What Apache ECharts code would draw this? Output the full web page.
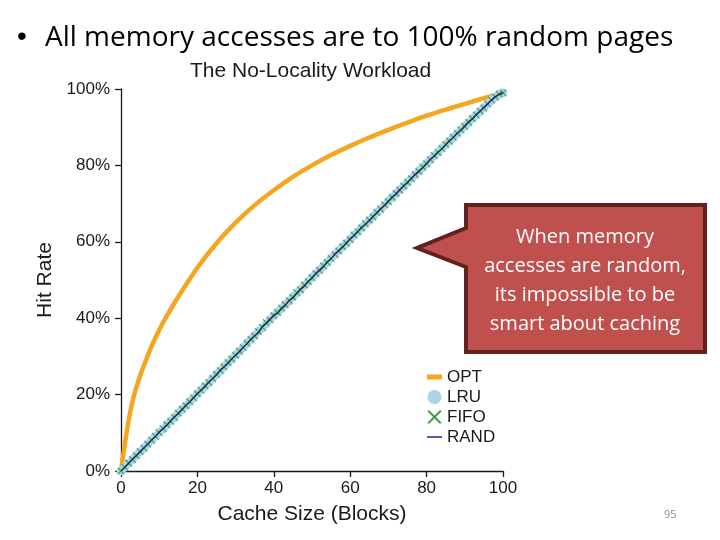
<!DOCTYPE html>
<html>
<head>
<meta charset="utf-8">
<script src="https://cdn.jsdelivr.net/npm/echarts@6/dist/echarts.min.js"></script>
<style>
  html, body { margin: 0; padding: 0; background: #ffffff; }
  #chart { width: 720px; height: 540px; }
</style>
</head>
<body>
<div id="chart"></div>
<script>
// ---- data ----
const slideTitle = 'All memory accesses are to 100% random pages';
const chartTitle = 'The No-Locality Workload';
const xAxisName = 'Cache Size (Blocks)';
const yAxisName = 'Hit Rate';
const calloutText = ['When memory', 'accesses are random,', 'its impossible to be', 'smart about caching'];
const pageNumber = '95';
const seriesNames = ['OPT', 'LRU', 'FIFO', 'RAND'];

const optBlocks = [0, 1, 2, 3, 4, 5, 6.5, 8, 10, 12, 15, 20, 25, 30, 35, 40, 45, 50, 55, 60, 65, 70, 75, 80, 85, 90, 95, 100];
const optHit    = [0, 7, 13.2, 18.2, 21.8, 24.9, 28.9, 32.6, 36.9, 40.6, 45.6, 53.2, 59.6, 65, 69.6, 73.5, 77, 80, 82.7, 85.1, 87.3, 89.3, 91.2, 93, 94.6, 96.1, 97.6, 99];

// cache sizes 0..100 for LRU / FIFO / RAND
const lruHit = [
  0, 1.0, 2.0, 3.0, 4.1, 5.0, 6.0, 7.1, 8.0, 9.1,
  10.1, 11.0, 12.1, 13.1, 14.0, 15.2, 16.1, 17.1, 18.2, 19.1,
  20.2, 21.3, 22.2, 23.1, 24.3, 25.3, 26.2, 27.4, 28.3, 29.3,
  30.4, 31.3, 32.3, 33.5, 34.4, 35.5, 36.6, 37.4, 38.5, 39.6,
  40.6, 41.6, 42.5, 43.6, 44.5, 45.6, 46.6, 47.5, 48.6, 49.5,
  50.7, 51.6, 52.7, 53.6, 54.6, 55.7, 56.6, 57.7, 58.7, 59.6,
  60.7, 61.7, 62.6, 63.7, 64.7, 65.6, 66.6, 67.7, 68.6, 69.6,
  70.7, 71.6, 72.6, 73.7, 74.5, 75.6, 76.6, 77.5, 78.6, 79.5,
  80.5, 81.5, 82.5, 83.4, 84.5, 85.4, 86.4, 87.4, 88.3, 89.3,
  90.3, 91.2, 92.3, 93.2, 94.1, 95.1, 96.1, 97.0, 97.9, 98.6,
  99.0
];
const fifoHit = [
  0, 1.0, 2.1, 3.0, 4.0, 5.1, 6.0, 7.0, 8.1, 9.1,
  10.0, 11.1, 12.1, 13.0, 14.1, 15.1, 16.2, 17.1, 18.1, 19.2,
  20.2, 21.1, 22.3, 23.2, 24.2, 25.3, 26.3, 27.2, 28.4, 29.3,
  30.3, 31.4, 32.3, 33.4, 34.5, 35.3, 36.5, 37.6, 38.9, 39.5,
  40.7, 41.5, 42.7, 43.5, 44.6, 45.5, 46.7, 47.4, 48.7, 49.6,
  50.6, 51.7, 52.5, 53.7, 54.6, 55.6, 56.7, 57.6, 58.7, 59.7,
  60.6, 61.8, 62.6, 63.6, 64.7, 65.7, 66.5, 67.7, 68.5, 69.7,
  70.5, 71.6, 72.7, 73.5, 74.6, 75.6, 76.5, 77.6, 78.4, 79.6,
  80.4, 81.5, 82.6, 83.4, 84.4, 85.5, 86.3, 87.4, 88.4, 89.3,
  90.2, 91.3, 92.2, 93.2, 94.2, 95.0, 96.1, 97.1, 97.9, 98.7,
  99.0
];
const randHit = [
  0, 1.0, 2.0, 3.1, 4.0, 5.0, 6.1, 7.0, 8.1, 9.0,
  10.2, 11.1, 12.0, 13.1, 14.2, 15.0, 16.1, 17.2, 18.1, 19.2,
  20.3, 21.2, 22.1, 23.3, 24.2, 25.2, 26.4, 27.3, 28.2, 29.4,
  30.3, 31.2, 32.4, 33.3, 34.5, 35.4, 36.2, 37.8, 38.6, 39.7,
  40.8, 41.3, 42.5, 43.4, 44.6, 45.3, 46.5, 47.6, 48.4, 49.6,
  50.5, 51.7, 52.6, 53.5, 54.7, 55.6, 56.8, 57.7, 58.6, 59.7,
  60.8, 61.6, 62.7, 63.8, 64.6, 65.5, 66.7, 67.6, 68.7, 69.5,
  70.6, 71.7, 72.5, 73.6, 74.7, 75.5, 76.6, 77.6, 78.5, 79.4,
  80.5, 81.6, 82.4, 83.5, 84.3, 85.4, 86.5, 87.3, 88.4, 89.2,
  90.3, 91.4, 92.2, 93.3, 94.2, 95.2, 96.1, 97.1, 98.0, 98.6,
  99.0
];
const xTicks = [0, 20, 40, 60, 80, 100];
const yTicks = [0, 20, 40, 60, 80, 100];

// ---- build ----
const pairs = (xs, ys) => ys.map((v, i) => [xs[i], v]);
const blocksRange = randHit.map((_, i) => i);

const axisFont = 'Liberation Sans, Arial, Helvetica, sans-serif';
const slideFont = '"Open Sans", Lato, sans-serif';
const xPath = 'path://M0,1L1,0L5,4L9,0L10,1L6,5L10,9L9,10L5,6L1,10L0,9L4,5Z';

const chart = echarts.init(document.getElementById('chart'), null, { renderer: 'canvas' });
chart.setOption({
  backgroundColor: '#ffffff',
  animation: false,
  textStyle: { fontFamily: axisFont },
  title: [
    { text: '\u2022', left: 17, top: 23, padding: 0,
      textStyle: { fontFamily: 'Arial, sans-serif', fontSize: 28, fontWeight: 'normal', color: '#000' } },
    { text: slideTitle, left: 45, top: 24, padding: 0,
      textStyle: { fontFamily: slideFont, fontSize: 28, fontWeight: 'normal', color: '#000' } },
    { text: chartTitle, left: 190, top: 61, padding: 0,
      textStyle: { fontFamily: axisFont, fontSize: 21, fontWeight: 'normal', color: '#1a1a1a' } },
    { text: pageNumber, left: 664, top: 509, padding: 0,
      textStyle: { fontFamily: slideFont, fontSize: 11, fontWeight: 'normal', color: '#8c8c8c' } }
  ],
  grid: { left: 121, right: 217, top: 89, bottom: 69, containLabel: false },
  xAxis: {
    type: 'value', min: 0, max: 100, interval: 20,
    name: xAxisName, nameLocation: 'middle', nameGap: 33,
    nameTextStyle: { fontSize: 21, color: '#1a1a1a' },
    axisLine: { show: true, lineStyle: { color: '#1a1a1a', width: 1.3 } },
    axisTick: { show: true, length: 6, lineStyle: { color: '#1a1a1a', width: 1.3 } },
    axisLabel: { fontSize: 17, color: '#1a1a1a', margin: 9,
      formatter: v => (xTicks.indexOf(v) >= 0 ? String(v) : '') },
    splitLine: { show: false }
  },
  yAxis: {
    type: 'value', min: 0, max: 100, interval: 20,
    name: yAxisName, nameLocation: 'middle', nameGap: 60, nameRotate: 90,
    nameTextStyle: { fontSize: 21, color: '#1a1a1a' },
    axisLine: { show: true, lineStyle: { color: '#1a1a1a', width: 1.3 } },
    axisTick: { show: true, length: 6, lineStyle: { color: '#1a1a1a', width: 1.3 } },
    axisLabel: { fontSize: 17, color: '#1a1a1a', margin: 11,
      formatter: v => (yTicks.indexOf(v) >= 0 ? v + '%' : '') },
    splitLine: { show: false }
  },
  legend: {
    orient: 'vertical', left: 427, top: 368, padding: 0,
    itemWidth: 15, itemHeight: 14, itemGap: 2, symbolKeepAspect: true,
    textStyle: { fontSize: 17, color: '#1a1a1a', lineHeight: 18, padding: [0, 0, 0, 0] },
    data: [
      { name: seriesNames[0], icon: 'path://M0,0H15V5H0Z' },
      { name: seriesNames[1], icon: 'circle' },
      { name: seriesNames[2], icon: xPath },
      { name: seriesNames[3], icon: 'path://M0,0H15V1.6H0Z' }
    ],
    selectedMode: false
  },
  series: [
    {
      name: seriesNames[0], type: 'line', data: pairs(optBlocks, optHit),
      smooth: 0.25, symbol: 'none', z: 2,
      lineStyle: { color: '#f5a51f', width: 4.5 }, itemStyle: { color: '#f5a51f' }
    },
    {
      name: seriesNames[1], type: 'scatter', data: pairs(blocksRange, lruHit),
      symbol: 'circle', symbolSize: 9, z: 3,
      itemStyle: { color: '#a9d6e5', opacity: 1 }
    },
    {
      name: seriesNames[2], type: 'scatter', data: pairs(blocksRange, fifoHit),
      symbol: xPath, symbolSize: 7, z: 4,
      itemStyle: { color: '#3d9a45', opacity: 1 }
    },
    {
      name: seriesNames[3], type: 'line', data: pairs(blocksRange, randHit),
      symbol: 'none', z: 5,
      lineStyle: { color: '#1f2b63', width: 1.5 }, itemStyle: { color: '#2c3380' }
    }
  ],
  graphic: [
    {
      type: 'polygon', z: 100,
      shape: { points: [[466, 205], [705, 205], [705, 352], [466, 352], [466, 267], [417, 248], [466, 228]] },
      style: { fill: '#c0504d', stroke: '#62211f', lineWidth: 4, lineJoin: 'miter' }
    },
    {
      type: 'text', z: 101, x: 585, y: 281,
      style: {
        text: calloutText.join('\n'), fill: '#ffffff',
        font: '20px "Open Sans", Lato, sans-serif',
        lineHeight: 29, textAlign: 'center', textVerticalAlign: 'middle'
      }
    }
  ]
});
</script>
</body>
</html>
